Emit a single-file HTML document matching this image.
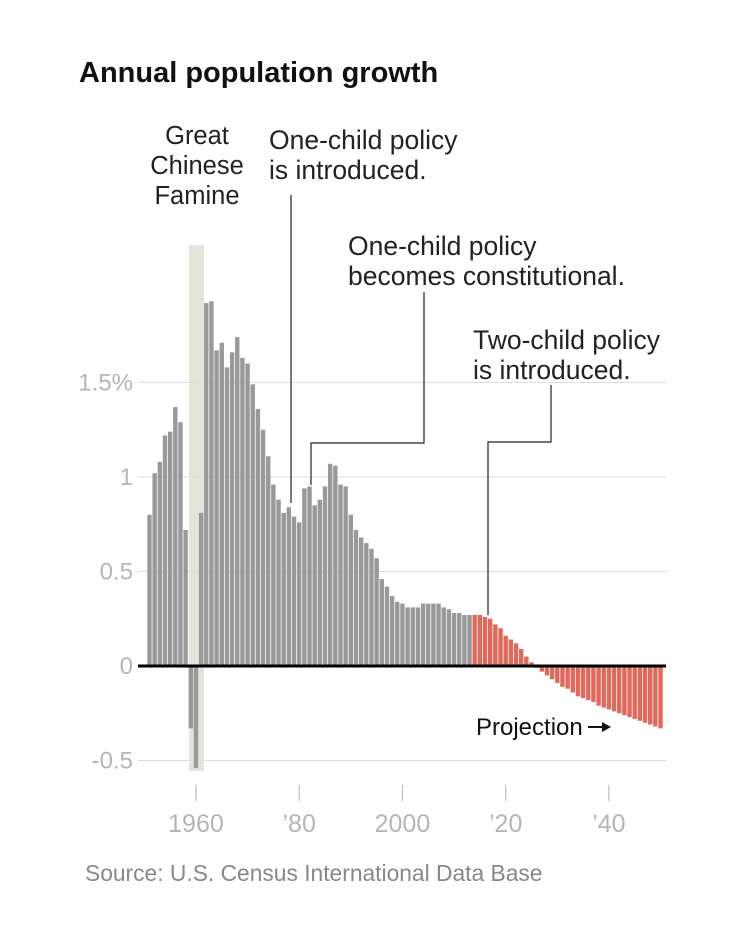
<!DOCTYPE html>
<html><head><meta charset="utf-8">
<style>
html,body{margin:0;padding:0;background:#fff;}
svg{display:block;font-family:"Liberation Sans",sans-serif;}
</style></head>
<body>
<svg id="chart" width="750" height="934" viewBox="0 0 750 934" xmlns="http://www.w3.org/2000/svg">
<rect width="750" height="934" fill="#fff"/>
<text x="79" y="82" font-size="29" font-weight="bold" fill="#111">Annual population growth</text>
<rect x="189" y="245" width="15" height="526" fill="#e4e3dc"/>
<g id="grid"></g>
<g id="bars"></g>
<line x1="138" x2="666" y1="666" y2="666" stroke="#000" stroke-width="3"/>
<g id="xaxis"></g>
<g font-size="25.5" fill="#222" text-anchor="middle">
<text x="197" y="144">Great</text><text x="197" y="174">Chinese</text><text x="197" y="204">Famine</text>
</g>
<g font-size="26.5" fill="#222">
<text x="269" y="149">One-child policy</text><text x="269" y="179">is introduced.</text>
</g>
<polyline points="291,195 291,503" fill="none" stroke="#222" stroke-width="1.2"/>
<g font-size="26.5" fill="#222">
<text x="348" y="255">One-child policy</text><text x="348" y="285">becomes constitutional.</text>
</g>
<polyline points="424,292 424,443 311,443 311,485" fill="none" stroke="#222" stroke-width="1.2"/>
<g font-size="26.5" fill="#222">
<text x="473" y="349">Two-child policy</text><text x="473" y="379">is introduced.</text>
</g>
<polyline points="551,385 551,442 488,442 488,615" fill="none" stroke="#222" stroke-width="1.2"/>
<text x="476" y="735" font-size="24" fill="#111">Projection</text>
<g><line x1="588" x2="603" y1="727" y2="727" stroke="#111" stroke-width="2"/><polygon points="602,722 611,727 602,732" fill="#111"/></g>
<text x="85" y="881" font-size="22.8" fill="#888">Source: U.S. Census International Data Base</text>
</svg>
<script>
const years = [];
for (let y = 1951; y <= 2050; y++) years.push(y);
const growth = [0.80,1.02,1.08,1.22,1.24,1.37,1.29,0.72,-0.33,-0.54,
0.81,1.92,1.93,1.67,1.71,1.58,1.66,1.74,1.63,1.60,
1.49,1.36,1.25,1.11,0.96,0.88,0.81,0.84,0.79,0.76,
0.94,0.95,0.85,0.88,0.95,1.07,1.06,0.96,0.95,0.80,
0.72,0.68,0.65,0.62,0.57,0.46,0.42,0.37,0.34,0.33,
0.31,0.31,0.31,0.33,0.33,0.33,0.33,0.31,0.30,0.28,
0.28,0.27,0.27,0.27,0.27,0.26,0.25,0.22,0.20,0.16,
0.14,0.12,0.09,0.05,0.02,-0.01,-0.03,-0.05,-0.07,-0.09,
-0.11,-0.12,-0.14,-0.16,-0.17,-0.18,-0.19,-0.21,-0.22,-0.23,
-0.24,-0.25,-0.26,-0.27,-0.28,-0.29,-0.30,-0.31,-0.32,-0.33];
const projectionStart = 2014;
const yTicks = [-0.5, 0, 0.5, 1, 1.5];
const yTickLabels = ["-0.5", "0", "0.5", "1", "1.5%"];
const xTicks = [1960, 1980, 2000, 2020, 2040];
const xTickLabels = ["1960", "\u201980", "2000", "\u201920", "\u201940"];

const NS = "http://www.w3.org/2000/svg";
const yScale = v => 666 - v * 189;
const xScale = yr => 149.5 + (yr - 1951) * 5.162;
function mk(tag, attrs, parent) {
  const e = document.createElementNS(NS, tag);
  for (const k in attrs) e.setAttribute(k, attrs[k]);
  parent.appendChild(e);
  return e;
}
const grid = document.getElementById("grid");
yTicks.forEach((t, i) => {
  if (t !== 0) {
    const l = mk("line", {x1: 138, x2: 666, y1: yScale(t), y2: yScale(t), stroke: "#ddd", "stroke-width": 1}, grid);
    
    
  }
  const tx = mk("text", {x: 133, y: yScale(t) + 8, "text-anchor": "end", "font-size": 24, fill: "#b5b5b5"}, grid);
  tx.textContent = yTickLabels[i];
  
  
});
const bars = document.getElementById("bars");
years.forEach((yr, i) => {
  const v = growth[i];
  const y0 = yScale(0), y1 = yScale(v);
  const r = mk("rect", {x: xScale(yr) - 2.2, width: 4.4, y: Math.min(y0, y1), height: Math.abs(y1 - y0),
    fill: yr >= projectionStart ? "#dd6a5c" : "#999"}, bars);
  
  
});
const xaxis = document.getElementById("xaxis");
xTicks.forEach((t, i) => {
  const x = xScale(t);
  const l = mk("line", {x1: x, x2: x, y1: 785, y2: 801, stroke: "#bbb", "stroke-width": 1.2}, xaxis);
  
  
  const tx = mk("text", {x: x, y: 832, "text-anchor": "middle", "font-size": 25, fill: "#b5b5b5"}, xaxis);
  tx.textContent = xTickLabels[i];
  
  
});
</script>
</body></html>
